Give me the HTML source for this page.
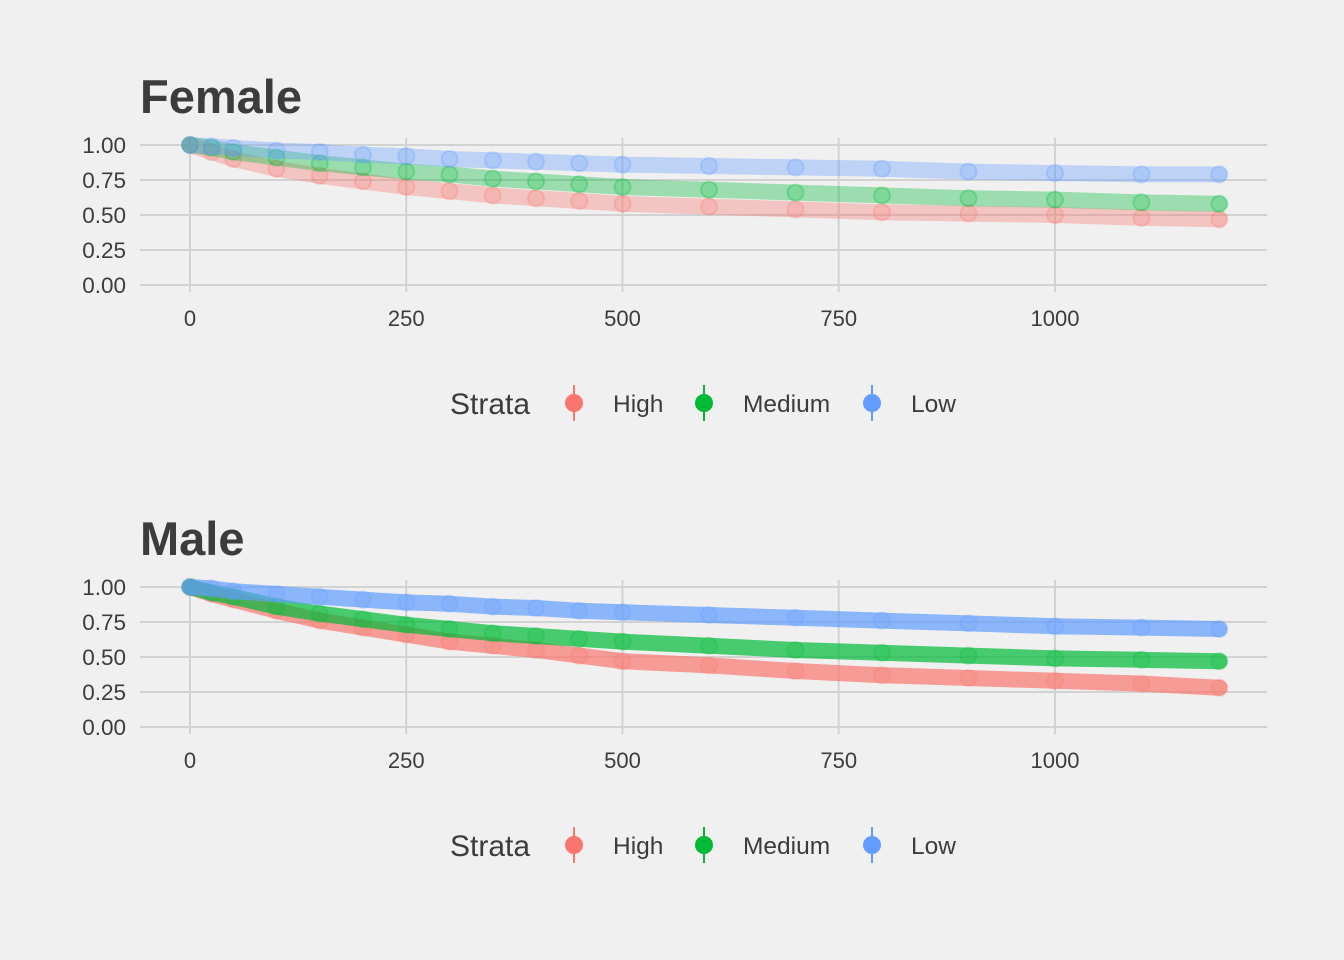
<!DOCTYPE html>
<html><head><meta charset="utf-8"><style>
body{margin:0;background:#f0f0f0;}
svg{display:block;font-family:"Liberation Sans",sans-serif;}
</style></head><body>
<svg id="chart" width="1344" height="960"></svg>
<script>
const times = [0,25,50,100,150,200,250,300,350,400,450,500,600,700,800,900,1000,1100,1190];
const femaleHigh = [1,0.95,0.90,0.83,0.78,0.74,0.70,0.67,0.64,0.62,0.60,0.58,0.56,0.54,0.52,0.51,0.50,0.48,0.47];
const femaleMedium = [1,0.98,0.95,0.91,0.87,0.84,0.81,0.79,0.76,0.74,0.72,0.70,0.68,0.66,0.64,0.62,0.61,0.59,0.58];
const femaleLow = [1,0.99,0.98,0.96,0.95,0.93,0.92,0.90,0.89,0.88,0.87,0.86,0.85,0.84,0.83,0.81,0.80,0.79,0.79];
const maleHigh = [1,0.95,0.91,0.83,0.76,0.71,0.66,0.61,0.58,0.55,0.51,0.47,0.44,0.40,0.37,0.35,0.33,0.31,0.28];
const maleMedium = [1,0.96,0.93,0.86,0.81,0.77,0.73,0.70,0.67,0.65,0.63,0.61,0.58,0.55,0.53,0.51,0.49,0.48,0.47];
const maleLow = [1,0.99,0.97,0.95,0.93,0.91,0.89,0.88,0.86,0.85,0.83,0.82,0.80,0.78,0.76,0.74,0.72,0.71,0.70];
const xTicks = [0,250,500,750,1000];
const yTicks = ["0.00","0.25","0.50","0.75","1.00"];
const strata = ["High","Medium","Low"];
const colors = ["#F8766D","#00BA38","#619CFF"];

const NS="http://www.w3.org/2000/svg";
const svg=document.getElementById('chart');
function mk(tag,attrs,parent){const e=document.createElementNS(NS,tag);for(const k in attrs)e.setAttribute(k,attrs[k]);(parent||svg).appendChild(e);return e;}
const xScale=t=>190+t*0.865;

function panel(title,top,series,name,dotOp,lineOp){
  const g=mk('g',{});
  
  
  const yScale=v=>top+140-v*140;
  const tt=mk('text',{x:140,y:top-32,'font-size':47,'font-weight':'bold',fill:'#3c3c3c'},g);
  tt.textContent=title;
  
  
  xTicks.forEach(t=>{
    const l=mk('line',{x1:xScale(t),x2:xScale(t),y1:top-7,y2:top+147,stroke:'#d2d2d2','stroke-width':2},g);
    
    
    const tx=mk('text',{x:xScale(t),y:top+181,'font-size':22,fill:'#3c3c3c','text-anchor':'middle'},g);
    tx.textContent=t;
    
    
  });
  yTicks.forEach(s=>{
    const v=parseFloat(s);
    const l=mk('line',{x1:140,x2:1267,y1:yScale(v),y2:yScale(v),stroke:'#d2d2d2','stroke-width':2},g);
    
    
    const tx=mk('text',{x:126,y:yScale(v)+8,'font-size':22.5,fill:'#3c3c3c','text-anchor':'end'},g);
    tx.textContent=s;
    
    
  });
  series.forEach((vals,i)=>{
    const pts=times.map((t,j)=>xScale(t)+','+yScale(vals[j])).join(' ');
    const pl=mk('polyline',{points:pts,fill:'none',stroke:colors[i],'stroke-width':16,'stroke-opacity':lineOp,'stroke-linecap':'round','stroke-linejoin':'round'},g);
    
    
    times.forEach((t,j)=>{
      const c=mk('circle',{cx:xScale(t),cy:yScale(vals[j]),r:8,fill:colors[i],'fill-opacity':dotOp,stroke:colors[i],'stroke-opacity':dotOp+0.1,'stroke-width':2},g);
      
      
    });
  });
  const ly=top+258;
  const lg=mk('g',{},g);
  
  
  const st=mk('text',{x:450,y:ly+11,'font-size':30,fill:'#3c3c3c'},lg);
  st.textContent='Strata';
  
  
  const kx=[574,704,872], lx=[613,743,911];
  strata.forEach((s,i)=>{
    const e=mk('g',{},lg);
    
    
    mk('line',{x1:kx[i],x2:kx[i],y1:ly-18,y2:ly+18,stroke:colors[i],'stroke-width':2},e);
    mk('circle',{cx:kx[i],cy:ly,r:9,fill:colors[i]},e);
    const tx=mk('text',{x:lx[i],y:ly+9,'font-size':24.5,fill:'#3c3c3c'},e);
    tx.textContent=s;
  });
}
panel('Female',145,[femaleHigh,femaleMedium,femaleLow],'female',0.18,0.35);
panel('Male',587,[maleHigh,maleMedium,maleLow],'male',0.15,0.7);
</script>
</body></html>
